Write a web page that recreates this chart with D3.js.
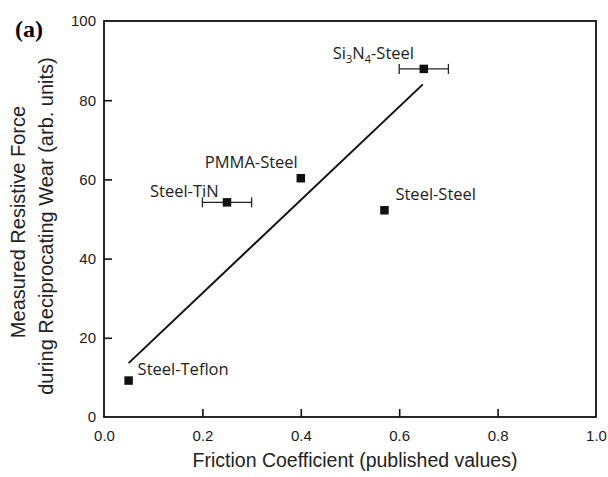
<!DOCTYPE html>
<html>
<head>
<meta charset="utf-8">
<script src="https://cdn.jsdelivr.net/npm/d3@7"></script>
<style>
  body { margin: 0; background: #fff; }
  svg { display: block; }
  .tick text { font-family: "Liberation Sans", Arial, sans-serif; }
</style>
</head>
<body>
<svg width="608" height="477"></svg>
<script>
  // measured points
  const pairs = ["Steel-Teflon", "Steel-TiN", "PMMA-Steel", "Steel-Steel", "Si3N4-Steel"];
  const friction = [0.05, 0.25, 0.40, 0.57, 0.65];
  const force = [9.2, 54.2, 60.3, 52.2, 87.9];
  const frictionErr = [0, 0.05, 0, 0, 0.05];

  // fitted line end points
  const fitX = [0.05, 0.648];
  const fitY = [13.6, 84];

  const xTicks = [0, 0.2, 0.4, 0.6, 0.8, 1.0];
  const yTicks = [0, 20, 40, 60, 80, 100];

  // label placement relative to the marker (px)
  const labelOffset = {
    "Steel-Teflon": [9, -6],
    "Steel-TiN": [-77, -5],
    "PMMA-Steel": [-96, -10],
    "Steel-Steel": [11, -10],
    "Si3N4-Steel": [-91, -10]
  };

  const svg = d3.select("svg");
  const pLeft = 104, pRight = 596, pTop = 21, pBottom = 417;

  const x = d3.scaleLinear().domain([0, 1]).range([pLeft, pRight]);
  const y = d3.scaleLinear().domain([0, 100]).range([pBottom, pTop]);

  // frame
  svg.append("rect")
    .attr("x", pLeft).attr("y", pTop)
    .attr("width", pRight - pLeft).attr("height", pBottom - pTop)
    .attr("fill", "none").attr("stroke", "#111").attr("stroke-width", 1.8);

  const xAxis = svg.append("g")
    .attr("transform", `translate(0,${pBottom})`)
    .call(d3.axisBottom(x).tickValues(xTicks).tickFormat(d3.format(".1f"))
      .tickSizeInner(-8).tickSizeOuter(0).tickPadding(13));
  xAxis.select(".domain").remove();
  xAxis.selectAll("line").attr("stroke", "#111").attr("stroke-width", 1.6)
    .filter(d => d === 0 || d === 1).remove();
  xAxis.selectAll("text").attr("font-size", 15).attr("fill", "#1a1a1a");

  const yAxis = svg.append("g")
    .attr("transform", `translate(${pLeft},0)`)
    .call(d3.axisLeft(y).tickValues(yTicks)
      .tickSizeInner(-8).tickSizeOuter(0).tickPadding(8));
  yAxis.select(".domain").remove();
  yAxis.selectAll("line").attr("stroke", "#111").attr("stroke-width", 1.6)
    .filter(d => d === 100 || d === 0).remove();
  yAxis.selectAll("text").attr("font-size", 15).attr("fill", "#1a1a1a");

  // fit line
  svg.append("line")
    .attr("x1", x(fitX[0])).attr("y1", y(fitY[0]))
    .attr("x2", x(fitX[1])).attr("y2", y(fitY[1]))
    .attr("stroke", "#111").attr("stroke-width", 2);

  const pts = pairs.map((p, i) => ({ name: p, fx: friction[i], fy: force[i], err: frictionErr[i] }));

  // error bars
  const eb = svg.append("g").selectAll("g")
    .data(pts.filter(d => d.err > 0)).join("g")
    .attr("stroke", "#222").attr("stroke-width", 1.3);
  eb.append("line")
    .attr("x1", d => x(d.fx - d.err)).attr("x2", d => x(d.fx + d.err))
    .attr("y1", d => y(d.fy)).attr("y2", d => y(d.fy));
  eb.append("line")
    .attr("x1", d => x(d.fx - d.err)).attr("x2", d => x(d.fx - d.err))
    .attr("y1", d => y(d.fy) - 5).attr("y2", d => y(d.fy) + 5);
  eb.append("line")
    .attr("x1", d => x(d.fx + d.err)).attr("x2", d => x(d.fx + d.err))
    .attr("y1", d => y(d.fy) - 5).attr("y2", d => y(d.fy) + 5);

  // markers
  svg.append("g").selectAll("rect")
    .data(pts).join("rect")
    .attr("x", d => x(d.fx) - 4.25).attr("y", d => y(d.fy) - 4.25)
    .attr("width", 8.5).attr("height", 8.5).attr("fill", "#111");

  // point labels
  const lbl = svg.append("g").selectAll("text")
    .data(pts).join("text")
    .attr("x", d => x(d.fx) + labelOffset[d.name][0])
    .attr("y", d => y(d.fy) + labelOffset[d.name][1])
    .attr("font-family", "'Open Sans', sans-serif")
    .attr("font-size", 16.5).attr("fill", "#222");
  lbl.each(function (d) {
    const t = d3.select(this);
    if (d.name === "Si3N4-Steel") {
      t.append("tspan").text("Si");
      t.append("tspan").attr("font-size", 11).attr("dy", 4).text("3");
      t.append("tspan").attr("dy", -4).text("N");
      t.append("tspan").attr("font-size", 11).attr("dy", 4).text("4");
      t.append("tspan").attr("dy", -4).text("-Steel");
    } else {
      t.text(d.name);
    }
  });

  // axis titles
  svg.append("text")
    .attr("x", 355).attr("y", 467)
    .attr("text-anchor", "middle")
    .attr("font-family", "'Liberation Sans', Arial, sans-serif")
    .attr("font-size", 19.5).attr("fill", "#222")
    .text("Friction Coefficient (published values)");

  svg.append("text")
    .attr("transform", "translate(25,222) rotate(-90)")
    .attr("text-anchor", "middle")
    .attr("font-family", "'Liberation Sans', Arial, sans-serif")
    .attr("font-size", 20).attr("fill", "#222")
    .text("Measured Resistive Force");
  svg.append("text")
    .attr("transform", "translate(53,226) rotate(-90)")
    .attr("text-anchor", "middle")
    .attr("font-family", "'Liberation Sans', Arial, sans-serif")
    .attr("font-size", 20).attr("fill", "#222")
    .text("during Reciprocating Wear (arb. units)");

  svg.append("text")
    .attr("x", 15).attr("y", 37)
    .attr("font-family", "'Liberation Serif', 'Times New Roman', serif")
    .attr("font-weight", "bold").attr("font-size", 24)
    .text("(a)");
</script>
</body>
</html>
